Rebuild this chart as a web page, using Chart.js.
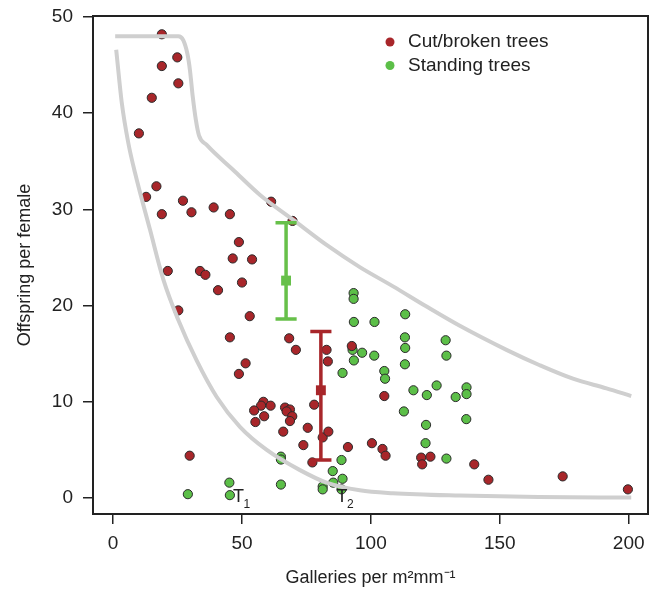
<!DOCTYPE html>
<html>
<head>
<meta charset="utf-8">
<script src="https://cdn.jsdelivr.net/npm/chart.js@4.4.1/dist/chart.umd.min.js"></script>
<style>
  body { margin: 0; background: #fff; }
  #wrap { width: 662px; height: 592px; position: relative; }
</style>
</head>
<body>
<div id="wrap"><canvas id="offspringChart"></canvas></div>
<script>
// cut / broken trees
var cutX = [18.9, 24.9, 18.9, 25.3, 15.0, 10.0, 16.8, 12.8, 27.1, 18.9, 30.4, 39.0, 45.3, 61.3, 69.6,
  48.8, 46.4, 53.9, 21.2, 33.7, 35.8, 50.0, 40.7, 25.3, 53.0, 45.3, 51.4, 48.8,
  58.3, 61.1, 57.4, 54.7, 58.6, 55.2, 29.7, 68.3, 70.9, 82.8, 83.3, 92.6, 105.2,
  119.5, 119.9, 123.1, 100.4, 104.5, 105.7, 91.1, 66.7, 68.6, 67.3, 69.5, 68.6,
  78.0, 66.0, 75.5, 73.8, 81.3, 83.5, 77.3, 140.1, 145.6, 174.4, 199.7];
var cutY = [48.2, 45.8, 44.9, 43.1, 41.6, 37.9, 32.4, 31.3, 30.9, 29.5, 29.7, 30.2, 29.5, 30.8, 28.8,
  26.6, 24.9, 24.8, 23.6, 23.6, 23.2, 22.4, 21.6, 19.5, 18.9, 16.7, 14.0, 12.9,
  10.0, 9.6, 9.6, 9.1, 8.5, 7.9, 4.4, 16.6, 15.4, 15.4, 14.2, 15.8, 10.6,
  4.2, 3.5, 4.3, 5.7, 5.1, 4.4, 5.3, 9.4, 9.2, 9.0, 8.5, 8.0,
  9.7, 6.9, 7.3, 5.5, 6.3, 6.9, 3.7, 3.5, 1.9, 2.25, 0.9];

// standing trees
var standX = [45.1, 29.0, 45.3, 93.3, 93.3, 93.4, 101.4, 113.3, 92.9, 96.6, 101.3, 93.4, 89.0, 105.2,
  105.5, 113.2, 113.3, 113.2, 129.0, 129.3, 116.5, 121.7, 125.5, 132.9, 112.8, 121.4,
  121.2, 129.3, 137.1, 137.1, 137.0, 65.1, 65.1, 65.1, 88.6, 85.2, 89.0, 85.4, 81.3, 81.3, 88.6];
var standY = [1.6, 0.4, 0.3, 21.3, 20.7, 18.3, 18.3, 19.1, 15.4, 15.1, 14.8, 14.3, 13.0, 13.2,
  12.4, 16.7, 15.6, 13.9, 16.4, 14.8, 11.2, 10.7, 11.7, 10.5, 9.0, 7.6,
  5.7, 4.1, 11.5, 10.8, 8.2, 4.3, 4.0, 1.4, 3.95, 2.8, 2.0, 1.6, 1.2, 0.9, 0.9];

// grey envelope curves
var upperX = [0.8, 25.3, 27.2, 28.8, 29.8, 30.9, 32.1, 33.3, 36.3, 46.6, 57.0, 69.9, 82.8, 95.7, 108.6, 121.6, 134.5, 152.6, 165.5, 178.4, 191.4, 201.0];
var upperY = [48.0, 48.0, 47.6, 46.2, 44.5, 41.7, 39.3, 37.7, 36.7, 34.1, 31.5, 28.9, 26.3, 24.0, 22.0, 19.9, 17.9, 15.4, 13.8, 12.4, 11.4, 10.6];
var lowerX = [1.2, 3.4, 5.9, 8.5, 14.3, 19.5, 25.3, 32.4, 40.2, 49.2, 59.6, 72.5, 82.8, 95.7, 108.5, 134.5, 165.0, 201.0];
var lowerY = [46.6, 41.0, 36.9, 33.8, 27.9, 22.7, 18.5, 14.3, 10.5, 7.4, 5.0, 2.9, 1.6, 0.8, 0.5, 0.25, 0.1, 0.05];

// group means with ranges
var barX = [67.1, 80.6];
var barLow = [18.6, 3.95];
var barMean = [22.6, 11.2];
var barHigh = [28.6, 17.3];
var barColors = ['#67c04a', '#a8262a'];
var capHalf = 4.1;

var xTicks = [0, 50, 100, 150, 200];
var yTicks = [0, 10, 20, 30, 40, 50];

function pts(xs, ys) {
  return xs.map(function(x, i) { return { x: x, y: ys[i] }; });
}

function barSegments(i) {
  var x = barX[i];
  return [
    { x: x - capHalf, y: barHigh[i] }, { x: x + capHalf, y: barHigh[i] }, { x: x, y: null },
    { x: x, y: barHigh[i] }, { x: x, y: barLow[i] }, { x: x, y: null },
    { x: x - capHalf, y: barLow[i] }, { x: x + capHalf, y: barLow[i] }
  ];
}

var boxAndLabels = {
  id: 'boxAndLabels',
  afterDraw: function(chart) {
    var ctx = chart.ctx, a = chart.chartArea;
    var xs = chart.scales.x, ys = chart.scales.y;
    ctx.save();
    ctx.strokeStyle = '#222';
    ctx.lineWidth = 2;
    ctx.strokeRect(a.left, a.top, a.right - a.left, a.bottom - a.top);

    // legend
    var items = [['Cut/broken trees', '#a8262a'], ['Standing trees', '#5cbf48']];
    ctx.font = '19px "Liberation Sans", Arial, sans-serif';
    ctx.textBaseline = 'middle';
    items.forEach(function(it, k) {
      var cy = a.top + 26 + k * 23.5;
      ctx.fillStyle = it[1];
      ctx.beginPath();
      ctx.arc(a.left + 297, cy, 4.5, 0, Math.PI * 2);
      ctx.fill();
      ctx.fillStyle = '#222';
      ctx.fillText(it[0], a.left + 315, cy);
    });

    // T1 / T2 markers
    [[48.6, '1'], [88.8, '2']].forEach(function(t) {
      var px = xs.getPixelForValue(t[0]), py = ys.getPixelForValue(0.1);
      ctx.font = '18px "Liberation Sans", Arial, sans-serif';
      ctx.textAlign = 'center';
      ctx.fillStyle = '#222';
      ctx.fillText('T', px, py);
      ctx.font = '12px "Liberation Sans", Arial, sans-serif';
      ctx.textAlign = 'left';
      ctx.fillText(t[1], px + 5, py + 8);
    });
    ctx.restore();
  }
};

Chart.defaults.font.family = '"Liberation Sans", Arial, sans-serif';
Chart.defaults.color = '#222';

new Chart(document.getElementById('offspringChart'), {
  type: 'scatter',
  data: {
    datasets: [
      { label: 'barLine0', data: barSegments(0), showLine: true, borderColor: barColors[0], borderWidth: 3.5, pointRadius: 0, order: 1 },
      { label: 'barLine1', data: barSegments(1), showLine: true, borderColor: barColors[1], borderWidth: 3.5, pointRadius: 0, order: 1 },
      { label: 'barMean', data: pts(barX, barMean), pointStyle: 'rect', pointRadius: 7, borderWidth: 0,
        backgroundColor: barColors, order: 0 },
      { label: 'upper', data: pts(upperX, upperY), showLine: true, borderColor: '#cfcfcf', borderWidth: 4,
        pointRadius: 0, cubicInterpolationMode: 'monotone', order: 2 },
      { label: 'lower', data: pts(lowerX, lowerY), showLine: true, borderColor: '#cfcfcf', borderWidth: 4,
        pointRadius: 0, cubicInterpolationMode: 'monotone', order: 2 },
      { label: 'Cut/broken trees', data: pts(cutX, cutY), backgroundColor: '#a8262a', borderColor: '#2a2a2a',
        borderWidth: 1, pointRadius: 4.6, order: 3 },
      { label: 'Standing trees', data: pts(standX, standY), backgroundColor: '#5cbf48', borderColor: '#2a2a2a',
        borderWidth: 1, pointRadius: 4.6, order: 4 }
    ]
  },
  options: {
    responsive: true,
    maintainAspectRatio: false,
    animation: false,
    events: [],
    layout: { padding: { top: 16, right: 14, left: 0, bottom: 0 } },
    plugins: { legend: { display: false }, tooltip: { enabled: false } },
    scales: {
      x: {
        type: 'linear', min: -7.8, max: 207.5,
        afterFit: function(s) { s.height = 78; s.paddingLeft = 0; s.paddingRight = 0; },
        afterBuildTicks: function(s) { s.ticks = xTicks.map(function(v) { return { value: v }; }); },
        border: { display: false },
        grid: { drawOnChartArea: false, drawTicks: true, tickLength: 10, color: '#222', lineWidth: 1.5 },
        ticks: { font: { size: 19 }, padding: 8, maxRotation: 0 },
        title: { display: true, text: 'Galleries per m\u00B2mm\u207B\u00B9', font: { size: 18 }, padding: { top: 0, bottom: 3 } }
      },
      y: {
        type: 'linear', min: -1.66, max: 50.1,
        afterFit: function(s) { s.width = 93; s.paddingTop = 0; s.paddingBottom = 0; },
        afterBuildTicks: function(s) { s.ticks = yTicks.map(function(v) { return { value: v }; }); },
        border: { display: false },
        grid: { drawOnChartArea: false, drawTicks: true, tickLength: 10, color: '#222', lineWidth: 1.5 },
        ticks: { font: { size: 19 }, padding: 10 },
        title: { display: true, text: 'Offspring per female', font: { size: 18 }, padding: { top: 14, bottom: 0 } }
      }
    }
  },
  plugins: [boxAndLabels]
});
</script>
</body>
</html>
